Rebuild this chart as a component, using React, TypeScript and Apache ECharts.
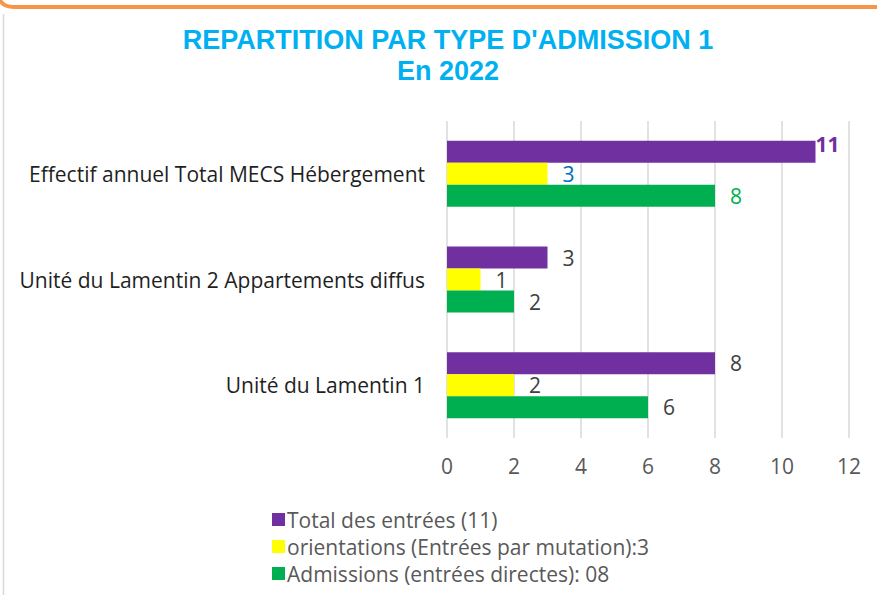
import React, { useEffect, useRef } from "react";
import * as echarts from "echarts";

const categories = [
  "Unité du Lamentin 1",
  "Unité du Lamentin 2 Appartements diffus",
  "Effectif annuel Total MECS Hébergement",
];
const totalValues = [8, 3, 11];
const orientationValues = [2, 1, 3];
const admissionValues = [6, 2, 8];
const seriesNames = [
  "Total des entrées (11)",
  "orientations (Entrées par mutation):3",
  "Admissions (entrées directes): 08",
];
const xTicks = [0, 2, 4, 6, 8, 10, 12];

const PURPLE = "#7030A0";
const YELLOW = "#FFFF00";
const GREEN = "#00B050";
const FONT = "'Open Sans', Lato, sans-serif";

export default function App() {
  const ref = useRef<HTMLDivElement>(null);
  useEffect(() => {
    if (!ref.current) return;
    const chart = echarts.init(ref.current, null, { renderer: "svg" });
    const baseLabel = {
      show: true,
      position: "right",
      distance: 15,
      color: "#404040",
      fontSize: 21,
      fontFamily: FONT,
    };
    const mk = (vals: number[], special: Record<number, any>) =>
      vals.map((v, i) => (special[i] ? { value: v, label: special[i] } : v));
    chart.setOption({
      animation: false,
      backgroundColor: "#ffffff",
      title: {
        text: "REPARTITION PAR TYPE D'ADMISSION 1\nEn 2022",
        left: 443,
        textAlign: "center",
        top: 19,
        textStyle: {
          color: "#00B0F0",
          fontSize: 27,
          fontWeight: "bold",
          fontFamily: "'Liberation Sans', Arial, sans-serif",
          lineHeight: 31,
        },
      },
      grid: { left: 447, right: 28, top: 121, bottom: 157, containLabel: false },
      xAxis: {
        type: "value",
        min: 0,
        max: 12,
        interval: 2,
        axisLine: { show: false },
        axisTick: { show: false },
        splitLine: { lineStyle: { color: "#D9D9D9", width: 1.5 } },
        axisLabel: {
          color: "#595959",
          fontSize: 21,
          fontFamily: FONT,
          margin: 17,
          formatter: (v: number) => (xTicks.includes(v) ? String(v) : ""),
        },
      },
      yAxis: {
        type: "category",
        data: categories,
        axisLine: { show: false },
        axisTick: { show: false },
        axisLabel: {
          color: "#1F1F1F",
          fontSize: 21,
          fontFamily: FONT,
          margin: 22,
        },
      },
      legend: {
        orient: "vertical",
        left: 267,
        top: 504,
        itemWidth: 13,
        itemHeight: 13,
        itemGap: 6,
        icon: "rect",
        data: seriesNames,
        textStyle: { color: "#595959", fontSize: 21, fontFamily: FONT, padding: [0, 0, 0, -3] },
      },
      series: [
        {
          name: seriesNames[0],
          type: "bar",
          barWidth: 22,
          barGap: "0%",
          itemStyle: { color: PURPLE },
          label: baseLabel,
          data: mk(totalValues, {
            2: { color: PURPLE, fontWeight: "bold", distance: 0, offset: [0, -8] },
          }),
        },
        {
          name: seriesNames[1],
          type: "bar",
          barWidth: 22,
          barGap: "0%",
          itemStyle: { color: YELLOW },
          label: baseLabel,
          data: mk(orientationValues, { 2: { color: "#0070C0" } }),
        },
        {
          name: seriesNames[2],
          type: "bar",
          barWidth: 22,
          barGap: "0%",
          itemStyle: { color: GREEN },
          label: baseLabel,
          data: mk(admissionValues, { 2: { color: GREEN } }),
        },
      ],
      graphic: [
        {
          type: "line",
          shape: { x1: 14, y1: 7, x2: 877, y2: 7 },
          style: { stroke: "#F79646", lineWidth: 4 },
          silent: true,
        },
        {
          type: "bezierCurve",
          shape: { x1: 0, y1: 0, x2: 14, y2: 7, cpx1: 3, cpy1: 7 },
          style: { stroke: "#F79646", lineWidth: 4, fill: "none" },
          silent: true,
        },
        {
          type: "line",
          shape: { x1: 3.5, y1: 14, x2: 3.5, y2: 595 },
          style: { stroke: "#D9D9D9", lineWidth: 1.5 },
          silent: true,
        },
      ],
    });
    return () => chart.dispose();
  }, []);
  return (
    <div
      ref={ref}
      style={{ position: "fixed", left: 0, top: 0, width: 877, height: 595 }}
    />
  );
}
